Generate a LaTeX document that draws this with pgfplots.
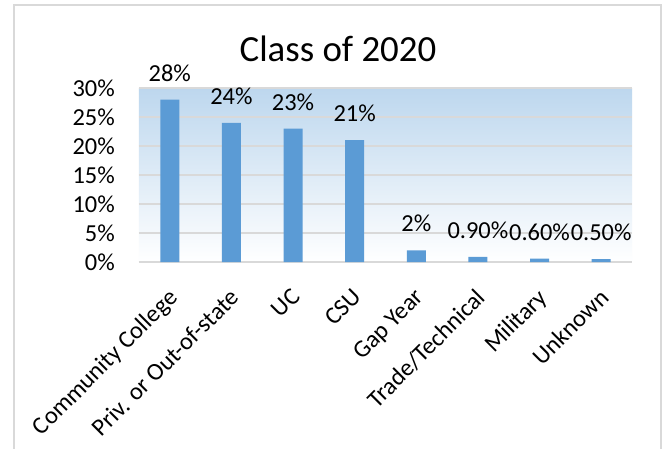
\documentclass[border=0pt]{standalone}
\usepackage{pgfplots}
\pgfplotsset{compat=1.18}
\usepackage{pgfplotstable}
\usepackage{fontspec}
\setmainfont{Carlito}

\definecolor{barblue}{HTML}{5B9BD5}
\definecolor{bgtop}{HTML}{BDD7EE}
\definecolor{gridgray}{HTML}{D9D9D9}

% destination shares, class of 2020 (percent)
\pgfplotstableread{
x y lab
0 28 28
1 24 24
2 23 23
3 21 21
4 2 2
5 0.9 0.90
6 0.6 0.60
7 0.5 0.50
}\dest

\begin{document}
\begin{tikzpicture}
\useasboundingbox (-139bp,-187bp) rectangle (530bp,262bp);
\clip (-139bp,-187bp) rectangle (530bp,262bp);
\fill[white] (-139bp,-187bp) rectangle (530bp,262bp);
\draw[gridgray, line width=2bp] (-125bp,-220bp) -- (-125bp,257bp) -- (522bp,257bp) -- (522bp,-220bp);
\begin{axis}[
    at={(0,0)}, anchor=south west,
    scale only axis,
    width=493bp, height=174bp,
    ybar, bar width=19bp,
    xmin=-0.5, xmax=7.5,
    ymin=0, ymax=30,
    xtick=data,
    xticklabels={Community College, Priv. or Out-of-state, UC, CSU, Gap Year, Trade/Technical, Military, Unknown},
    ytick={0,5,...,30},
    yticklabels={0\%,5\%,10\%,15\%,20\%,25\%,30\%},
    major tick length=0pt,
    axis x line=bottom, axis y line=left,
    x axis line style={draw=gridgray, line width=2bp, -},
    y axis line style={draw=none},
    ymajorgrids,
    major grid style={draw=gridgray, line width=1.3bp},
    axis background/.style={shade, top color=bgtop, bottom color=white},
    tick label style={font=\fontsize{24.5}{29}\selectfont, text=black},
    yticklabel style={anchor=east, inner sep=0pt, xshift=-24bp},
    xticklabel style={xshift=-3bp, yshift=-25bp, rotate=45, anchor=north east, inner sep=0pt},
    point meta=explicit symbolic,
    nodes near coords={\pgfplotspointmeta\%},
    every node near coord/.style={anchor=base, inner sep=0pt, yshift=18.5bp, font=\fontsize{24.5}{29}\selectfont, text=black},
]
\addplot[fill=barblue, draw=none] table[x=x, y=y, meta=lab] {\dest};
\end{axis}
\node[anchor=base, font=\fontsize{37}{44}\selectfont] at (199bp,200bp) {Class of 2020};
\end{tikzpicture}
\end{document}
